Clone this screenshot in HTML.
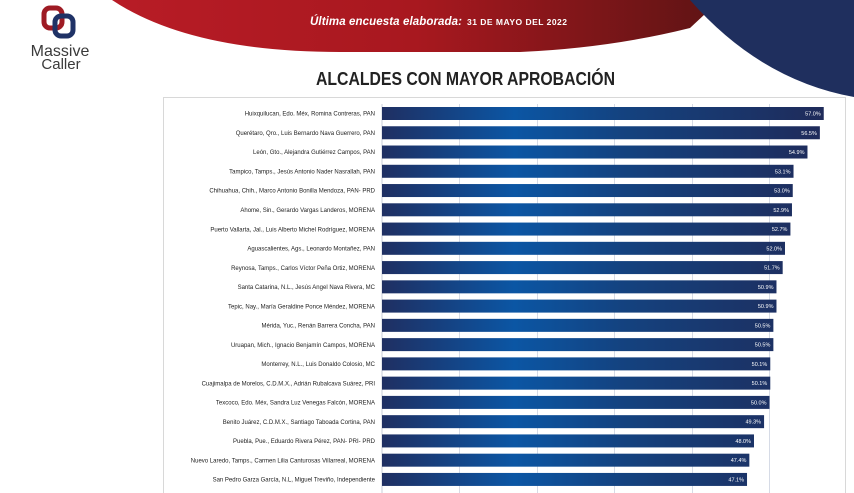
<!DOCTYPE html>
<html><head><meta charset="utf-8"><style>
html,body{margin:0;padding:0;background:#fff;}
body{width:854px;height:493px;overflow:hidden;position:relative;font-family:"Liberation Sans",sans-serif;}
</style></head><body>
<svg width="854" height="493" viewBox="0 0 854 493" xmlns="http://www.w3.org/2000/svg" style="position:absolute;left:0;top:0">
<defs>
<linearGradient id="red" x1="0" y1="0" x2="1" y2="0">
<stop offset="0" stop-color="#b81c26"/><stop offset="0.5" stop-color="#a8181f"/><stop offset="1" stop-color="#5e1414"/>
</linearGradient>
<linearGradient id="bar" gradientUnits="userSpaceOnUse" x1="382" y1="0" x2="823" y2="0">
<stop offset="0" stop-color="#1f2f62"/><stop offset="0.3" stop-color="#0b56a4"/><stop offset="0.55" stop-color="#14427f"/><stop offset="1" stop-color="#1f2b5a"/>
</linearGradient>
</defs>
<path d="M112 0 Q190 52 340 52 L520 52 Q610 48 690 28 L720 0 Z" fill="url(#red)"/>
<path d="M690 0 Q760 80 854 97 L854 0 Z" fill="#1f2f5e"/>
<text x="310" y="25" font-size="11.5" font-weight="bold" fill="#fff" font-style="italic" textLength="152">Última encuesta elaborada:</text>
<text x="467" y="25" font-size="8.5" font-weight="bold" fill="#fff" textLength="100">31 DE MAYO DEL 2022</text>
<rect x="44" y="8" width="18" height="20" rx="6" fill="none" stroke="#9e1b24" stroke-width="5"/>
<rect x="55" y="16" width="18" height="20" rx="6" fill="none" stroke="#1f3266" stroke-width="5"/>
<text x="60" y="56" font-size="16" fill="#3a3a3a" text-anchor="middle">Massive</text>
<text x="61" y="69" font-size="15" fill="#3a3a3a" text-anchor="middle">Caller</text>
<text x="316" y="85" font-size="18" font-weight="bold" fill="#222" textLength="299" lengthAdjust="spacingAndGlyphs">ALCALDES CON MAYOR APROBACIÓN</text>
<rect x="163.5" y="97.5" width="682" height="400" fill="#fff" stroke="#d8d8d8"/>
<g stroke="#d6dbe6" stroke-width="1">
<line x1="459.5" y1="104" x2="459.5" y2="493"/><line x1="537.5" y1="104" x2="537.5" y2="493"/>
<line x1="614.5" y1="104" x2="614.5" y2="493"/><line x1="692.5" y1="104" x2="692.5" y2="493"/>
<line x1="769.5" y1="104" x2="769.5" y2="493"/>
</g>
<line x1="382" y1="104" x2="382" y2="493" stroke="#c8cdd8"/>
<g id="rows" font-size="6" fill="#222"></g>
</svg>
<script>
var d=[["Huixquilucan, Edo. Méx, Romina Contreras, PAN",57.0,"57.0%"],
["Querétaro, Qro., Luis Bernardo Nava Guerrero, PAN",56.5,"56.5%"],
["León, Gto., Alejandra Gutiérrez Campos, PAN",54.9,"54.9%"],
["Tampico, Tamps., Jesús Antonio Nader Nasrallah, PAN",53.1,"53.1%"],
["Chihuahua, Chih., Marco Antonio Bonilla Mendoza, PAN- PRD",53.0,"53.0%"],
["Ahome, Sin., Gerardo Vargas Landeros, MORENA",52.9,"52.9%"],
["Puerto Vallarta, Jal., Luis Alberto Michel Rodríguez, MORENA",52.7,"52.7%"],
["Aguascalientes, Ags., Leonardo Montañez, PAN",52.0,"52.0%"],
["Reynosa, Tamps., Carlos Víctor Peña Ortiz, MORENA",51.7,"51.7%"],
["Santa Catarina, N.L., Jesús Angel Nava Rivera, MC",50.9,"50.9%"],
["Tepic, Nay., María Geraldine Ponce Méndez, MORENA",50.9,"50.9%"],
["Mérida, Yuc., Renán Barrera Concha, PAN",50.5,"50.5%"],
["Uruapan, Mich., Ignacio Benjamín Campos, MORENA",50.5,"50.5%"],
["Monterrey, N.L., Luis Donaldo Colosio, MC",50.1,"50.1%"],
["Cuajimalpa de Morelos, C.D.M.X., Adrián Rubalcava Suárez, PRI",50.1,"50.1%"],
["Texcoco, Edo. Méx, Sandra Luz Venegas Falcón, MORENA",50.0,"50.0%"],
["Benito Juárez, C.D.M.X., Santiago Taboada Cortina, PAN",49.3,"49.3%"],
["Puebla, Pue., Eduardo Rivera Pérez, PAN- PRI- PRD",48.0,"48.0%"],
["Nuevo Laredo, Tamps., Carmen Lilia Canturosas Villarreal, MORENA",47.4,"47.4%"],
["San Pedro Garza García, N.L, Miguel Treviño, Independiente",47.1,"47.1%"]];
var g=document.getElementById('rows'),s='';
for(var i=0;i<d.length;i++){var cy=113.5+i*19.26,w=d[i][1]*7.75;
s+='<rect x="382" y="'+(cy-6.5)+'" width="'+w+'" height="13" fill="url(#bar)"/>';
s+='<text x="375" y="'+(cy+2.2)+'" text-anchor="end">'+d[i][0]+'</text>';
s+='<text x="'+(382+w-3)+'" y="'+(cy+2)+'" text-anchor="end" fill="#fff" font-size="5.5">'+d[i][2]+'</text>';}
g.innerHTML=s;
</script>
</body></html>
